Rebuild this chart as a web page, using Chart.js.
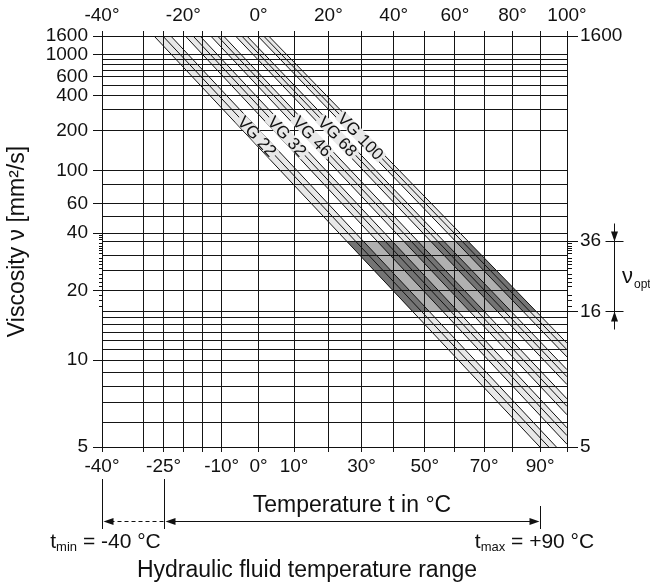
<!DOCTYPE html>
<html>
<head>
<meta charset="utf-8">
<title>Viscosity selection diagram</title>
<script src="https://cdn.jsdelivr.net/npm/chart.js@4.4.1/dist/chart.umd.min.js"></script>
<style>
  body { margin: 0; background: #fff; }
  canvas { display: block; }
</style>
</head>
<body>
<canvas id="visc" width="650" height="585"></canvas>
<script>
// ISO VG grades, each one drawn as 3 lines (-10 %, nominal, +10 % at 40 °C)
const vgGrades = ['VG 22', 'VG 32', 'VG 46', 'VG 68', 'VG 100']
// temperature (°C) where each line leaves the top edge (1600 mm²/s)
const tempAt1600 = [
  [-27.4, -25.2, -23.2],
  [-19.5, -17.5, -15.7],
  [-12.9, -11.1, -9.5],
  [-6.3, -4.6, -3.2],
  [-0.2, 1.4, 2.8]
]
// viscosity (mm²/s) of each line at 100 °C
const viscAt100 = [
  [4.1, 4.37, 4.62],
  [5.1, 5.43, 5.75],
  [6.35, 6.78, 7.2],
  [8.1, 8.65, 9.2],
  [10.3, 11.0, 11.7]
]
const labelVisc = 180

const tempGrid = [-40, -30, -25, -20, -15, -10, 0, 10, 20, 30, 40, 50, 60, 70, 80, 90, 100]
const tempTopLabels = [-40, -20, 0, 20, 40, 60, 80, 100]
const tempBottomLabels = [-40, -25, -10, 0, 10, 30, 50, 70, 90]
const viscGrid = [1600, 1000, 900, 800, 700, 600, 500, 400, 300, 200, 100, 80, 60, 50, 40, 36, 30, 25, 20, 16, 15, 14, 13, 12, 11, 10, 9, 8, 7, 6, 5]
const viscLeftLabels = [1600, 1000, 600, 400, 200, 100, 60, 40, 20, 10, 5]
const viscRightLabels = [1600, 36, 16, 5]
const viscMinor = [39, 38, 37, 35, 34, 33, 32, 31, 29, 28, 27, 26, 24, 23, 22, 21, 19, 18, 17]
const viscOpt = [16, 36]
const tempRange = [-40, -25, 90]

const FONT = "'Liberation Sans', Arial, Helvetica, sans-serif"
const INK = '#111'
const GRID = '#151515'
const BAND = '#e8e8e8'
const OPT_GAP = '#b0b0b0'
const OPT_BAND = '#747474'

// Ubbelohde-Walther type axes: x = log(T abs), y = log log(v + 0.8)
function tx(t) { return Math.log10(t + 273.15) }
function ty(v) { return Math.log10(Math.log10(v + 0.8)) }

var grades = []
for (var g = 0; g < vgGrades.length; g++) {
  var ls = []
  for (var k = 0; k < 3; k++) {
    ls.push([{x: tx(tempAt1600[g][k]), y: ty(1600)}, {x: tx(100), y: ty(viscAt100[g][k])}])
  }
  grades.push(ls)
}

// point of a line at a given viscosity (straight in the transformed space)
function cut(line, v) {
  var a = line[0], b = line[1], y = ty(v)
  return {x: a.x + (y - a.y) * (b.x - a.x) / (b.y - a.y), y: y}
}

function shape(data, color, order) {
  return {data: data, fill: 'shape', backgroundColor: color, borderColor: 'rgba(0,0,0,0)',
    borderWidth: 0, pointRadius: 0, order: order}
}

var datasets = []
grades.forEach(function (ls) {
  datasets.push(shape([ls[0][0], ls[0][1], ls[2][1], ls[2][0]], BAND, 3))
})
var lo = grades[0][0], hi = grades[grades.length - 1][2]
datasets.push(shape([cut(lo, viscOpt[1]), cut(lo, viscOpt[0]), cut(hi, viscOpt[0]), cut(hi, viscOpt[1])], OPT_GAP, 2))
grades.forEach(function (ls) {
  datasets.push(shape([cut(ls[0], viscOpt[1]), cut(ls[0], viscOpt[0]), cut(ls[2], viscOpt[0]), cut(ls[2], viscOpt[1])], OPT_BAND, 1))
})
grades.forEach(function (ls) {
  ls.forEach(function (line) {
    datasets.push({data: line, fill: false, borderColor: INK, borderWidth: 1, pointRadius: 0, order: 0})
  })
})

function seg(ctx, x1, y1, x2, y2) {
  ctx.beginPath(); ctx.moveTo(x1, y1); ctx.lineTo(x2, y2); ctx.stroke()
}
function head(ctx, x, y, dir) {
  ctx.beginPath()
  ctx.moveTo(x, y)
  if (dir == 'l') { ctx.lineTo(x + 10, y - 3.5); ctx.lineTo(x + 10, y + 3.5) }
  if (dir == 'r') { ctx.lineTo(x - 10, y - 3.5); ctx.lineTo(x - 10, y + 3.5) }
  if (dir == 'u') { ctx.lineTo(x - 3.5, y + 10); ctx.lineTo(x + 3.5, y + 10) }
  if (dir == 'd') { ctx.lineTo(x - 3.5, y - 10); ctx.lineTo(x + 3.5, y - 10) }
  ctx.closePath(); ctx.fill()
}
function subText(ctx, main, sub, rest, cx, y, size) {
  var big = size + 'px ' + FONT, small = Math.round(size * 0.6) + 'px ' + FONT
  ctx.font = big; var w1 = ctx.measureText(main).width, w3 = ctx.measureText(rest).width
  ctx.font = small; var w2 = ctx.measureText(sub).width
  var x = cx - (w1 + w2 + w3) / 2
  ctx.textAlign = 'left'
  ctx.font = big; ctx.fillText(main, x, y); x += w1
  ctx.font = small; ctx.fillText(sub, x, y + 3); x += w2
  ctx.font = big; ctx.fillText(rest, x, y)
}

const extras = {
  id: 'extras',
  afterDatasetsDraw(chart) {
    var ctx = chart.ctx, xs = chart.scales.x, ys = chart.scales.y
    // grid stays visible over the shaded bands
    xs.drawGrid(chart.chartArea)
    ys.drawGrid(chart.chartArea)
    ;['x', 'x2', 'y', 'y2'].forEach(function (id) { chart.scales[id].drawBorder() })

    // grade names sit on the nominal line
    var yl = ys.getPixelForValue(ty(labelVisc))
    grades.forEach(function (ls, g) {
      var m = ls[1]
      var p1 = {x: xs.getPixelForValue(m[0].x), y: ys.getPixelForValue(m[0].y)}
      var p2 = {x: xs.getPixelForValue(m[1].x), y: ys.getPixelForValue(m[1].y)}
      var xl = p1.x + (yl - p1.y) * (p2.x - p1.x) / (p2.y - p1.y)
      ctx.save()
      ctx.translate(xl, yl)
      ctx.rotate(Math.atan2(p2.y - p1.y, p2.x - p1.x))
      ctx.font = '17px ' + FONT
      var w = ctx.measureText(vgGrades[g]).width
      ctx.fillStyle = BAND
      ctx.fillRect(-w / 2 - 2, -6, w + 4, 12)
      ctx.fillStyle = INK
      ctx.textAlign = 'center'; ctx.textBaseline = 'middle'
      ctx.fillText(vgGrades[g], 0, 1)
      ctx.restore()
    })
  },
  afterDraw(chart) {
    var ctx = chart.ctx, xs = chart.scales.x, ys = chart.scales.y, area = chart.chartArea
    ctx.save()
    ctx.strokeStyle = INK; ctx.fillStyle = INK; ctx.lineWidth = 1

    viscMinor.forEach(function (v) {
      var y = Math.round(ys.getPixelForValue(ty(v))) + 0.5
      seg(ctx, area.left - 3, y, area.left, y)
      if (v > viscOpt[0] && v < viscOpt[1]) seg(ctx, area.right, y, area.right + 5, y)
    })

    // v_opt bracket
    var yTop = Math.round(ys.getPixelForValue(ty(viscOpt[1]))) + 0.5
    var yBot = Math.round(ys.getPixelForValue(ty(viscOpt[0]))) + 0.5
    var bx = 614.5
    seg(ctx, bx, yTop - 18, bx, yBot + 18)
    seg(ctx, bx - 9, yTop, bx + 9, yTop)
    seg(ctx, bx - 9, yBot, bx + 9, yBot)
    head(ctx, bx, yTop, 'd')
    head(ctx, bx, yBot, 'u')
    ctx.textBaseline = 'alphabetic'; ctx.textAlign = 'left'
    ctx.font = '22px ' + FONT
    ctx.fillText('ν', 622, 283)
    ctx.font = '12px ' + FONT
    ctx.fillText('opt.', 634, 288)

    // hydraulic fluid temperature range
    var xa = Math.round(xs.getPixelForValue(tx(tempRange[0]))) + 0.5
    var xb = Math.round(xs.getPixelForValue(tx(tempRange[1]))) + 0.5
    var xc = Math.round(xs.getPixelForValue(tx(tempRange[2]))) + 0.5
    var ya = 521.5
    seg(ctx, xa, 479, xa, 529)
    seg(ctx, xb, 479, xb, 529)
    seg(ctx, xc, 506, xc, 529)
    ctx.setLineDash([4, 3])
    seg(ctx, xa + 8, ya, xb, ya)
    ctx.setLineDash([])
    seg(ctx, xb + 8, ya, xc - 8, ya)
    head(ctx, xa + 1, ya, 'l')
    head(ctx, xb + 1, ya, 'l')
    head(ctx, xc - 1, ya, 'r')

    ctx.textAlign = 'center'; ctx.textBaseline = 'middle'
    ctx.font = '23px ' + FONT
    ctx.fillText('Temperature t in °C', 352, 506)
    ctx.textBaseline = 'alphabetic'
    subText(ctx, 't', 'min', ' = ' + tempRange[0] + ' °C', xa + 3, 548, 21)
    subText(ctx, 't', 'max', ' = +' + tempRange[2] + ' °C', xc - 6, 548, 21)
    ctx.textAlign = 'center'; ctx.textBaseline = 'middle'
    ctx.font = '23px ' + FONT
    ctx.fillText('Hydraulic fluid temperature range', 307, 571)
    ctx.restore()
  }
}

function tempAxis(pos, labels, size) {
  return {
    type: 'linear', position: pos, min: tx(tempGrid[0]), max: tx(tempGrid[tempGrid.length - 1]),
    afterBuildTicks: function (s) { s.ticks = tempGrid.map(function (t) { return {value: tx(t)} }) },
    afterFit: function (s) { s.height = size },
    grid: {color: GRID, lineWidth: 1, tickLength: 5, tickColor: GRID, drawOnChartArea: pos == 'bottom'},
    border: {color: INK, width: 1},
    ticks: {
      autoSkip: false, maxRotation: 0, padding: pos == 'bottom' ? 3 : 4, color: INK,
      font: {family: FONT, size: 19},
      callback: function (v, i) { var t = tempGrid[i]; return labels.indexOf(t) >= 0 ? t + '°' : '' }
    }
  }
}

new Chart(document.getElementById('visc'), {
  type: 'line',
  data: {datasets: datasets},
  options: {
    responsive: false,
    animation: false,
    devicePixelRatio: 1,
    layout: {padding: 0},
    plugins: {legend: {display: false}, tooltip: {enabled: false}},
    elements: {line: {tension: 0}, point: {radius: 0}},
    scales: {
      x: tempAxis('bottom', tempBottomLabels, 138),
      x2: tempAxis('top', tempTopLabels, 36),
      y: {
        type: 'linear', position: 'left', min: ty(5), max: ty(1600),
        afterBuildTicks: function (s) { s.ticks = viscGrid.map(function (v) { return {value: ty(v)} }) },
        afterFit: function (s) { s.width = 102 },
        grid: {
          color: GRID, lineWidth: 1, tickLength: 9,
          tickColor: function (c) { return viscLeftLabels.indexOf(viscGrid[c.index]) >= 0 ? INK : 'rgba(0,0,0,0)' }
        },
        border: {color: INK, width: 1},
        ticks: {
          autoSkip: false, padding: 5, color: INK, font: {family: FONT, size: 19},
          callback: function (v, i) { var n = viscGrid[i]; return viscLeftLabels.indexOf(n) >= 0 ? String(n) : '' }
        },
        title: {display: true, text: 'Viscosity ν [mm²/s]', color: INK, font: {family: FONT, size: 23}, padding: {top: 4, bottom: 0}}
      },
      y2: {
        type: 'linear', position: 'right', min: ty(5), max: ty(1600),
        afterBuildTicks: function (s) { s.ticks = viscRightLabels.map(function (v) { return {value: ty(v)} }) },
        afterFit: function (s) { s.width = 83 },
        grid: {drawOnChartArea: false, tickLength: 11, tickColor: INK},
        border: {color: INK, width: 1},
        ticks: {
          autoSkip: false, padding: 2, color: INK, font: {family: FONT, size: 19},
          callback: function (v, i) { return String(viscRightLabels[i]) }
        }
      }
    }
  },
  plugins: [extras]
})
</script>
</body>
</html>
